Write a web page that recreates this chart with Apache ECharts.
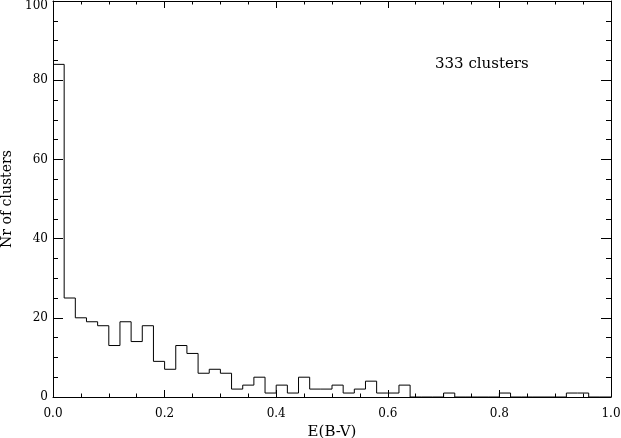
<!DOCTYPE html>
<html>
<head>
<meta charset="utf-8">
<script src="https://cdn.jsdelivr.net/npm/echarts@6/dist/echarts.min.js"></script>
<style>
html,body{margin:0;padding:0;background:#fff;}
#chart{width:621px;height:438px;}
</style>
</head>
<body>
<div id="chart"></div>
<script>
// Histogram of E(B-V): bins of width 0.02 starting at 0.0
const binStart = 0.0;
const binWidth = 0.02;
const counts = [
  84, 25, 20, 19, 18, 13, 19, 14, 18, 9,
  7, 13, 11, 6, 7, 6, 2, 3, 5, 1,
  3, 1, 5, 2, 2, 3, 1, 2, 4, 1,
  1, 3, 0, 0, 0, 1, 0, 0, 0, 0,
  1, 0, 0, 0, 0, 0, 1, 1, 0, 0
];
const xTicks = [0.0, 0.2, 0.4, 0.6, 0.8, 1.0];
const yTicks = [0, 20, 40, 60, 80, 100];
const annotation = '333 clusters';
const xName = 'E(B-V)';
const yName = 'Nr of clusters';

const stepData = counts.map((c, i) => [binStart + i * binWidth, c]);
stepData.push([binStart + counts.length * binWidth, counts[counts.length - 1]]);

const font = 'DejaVu Serif';
const black = '#000';
const chart = echarts.init(document.getElementById('chart'), null, {renderer: 'canvas'});

const baseX = {
  type: 'value', min: xTicks[0], max: xTicks[xTicks.length - 1], interval: 0.2,
  axisLine: {show: true, onZero: false, lineStyle: {color: black, width: 1}},
  axisTick: {show: true, inside: true, length: 7, lineStyle: {color: black}},
  minorTick: {show: true, splitNumber: 4, length: 3.5, lineStyle: {color: black}},
  splitLine: {show: false}
};
const baseY = {
  type: 'value', min: yTicks[0], max: yTicks[yTicks.length - 1], interval: 20,
  axisLine: {show: true, onZero: false, lineStyle: {color: black, width: 1}},
  axisTick: {show: true, inside: true, length: 10, lineStyle: {color: black}},
  minorTick: {show: true, splitNumber: 4, length: 5, lineStyle: {color: black}},
  splitLine: {show: false}
};

chart.setOption({
  animation: false,
  backgroundColor: '#fff',
  grid: {left: 53, right: 10, top: 1, bottom: 41, containLabel: false, outerBoundsMode: 'none'},
  xAxis: [
    Object.assign({}, baseX, {
      position: 'bottom',
      axisLabel: {show: true, margin: 11, fontFamily: font, fontSize: 12, color: black, lineHeight: 12,
        formatter: v => v.toFixed(1)},
      name: xName, nameLocation: 'middle', nameGap: 24,
      nameTextStyle: {fontFamily: font, fontSize: 15, color: black}
    }),
    Object.assign({}, baseX, {position: 'top', axisLabel: {show: false}})
  ],
  yAxis: [
    Object.assign({}, baseY, {
      position: 'left',
      axisLabel: {show: true, margin: 5, fontFamily: font, fontSize: 12, color: black,
        formatter: v => v === 100 ? '{t|100}' : String(v),
        rich: {t: {fontFamily: font, fontSize: 12, color: black, padding: [10, 0, 0, 0]}}},
      name: yName, nameLocation: 'middle', nameGap: 39,
      nameTextStyle: {fontFamily: font, fontSize: 14, color: black}
    }),
    Object.assign({}, baseY, {position: 'right', axisLabel: {show: false}})
  ],
  graphic: [{
    type: 'text', left: 435, top: 57,
    style: {text: annotation, fontFamily: font, fontSize: 15, fill: black}
  }],
  series: [{
    type: 'line', step: 'end', xAxisIndex: 0, yAxisIndex: 0,
    data: stepData, showSymbol: false, symbol: 'none',
    lineStyle: {color: black, width: 1}, clip: true
  }]
});
</script>
</body>
</html>
